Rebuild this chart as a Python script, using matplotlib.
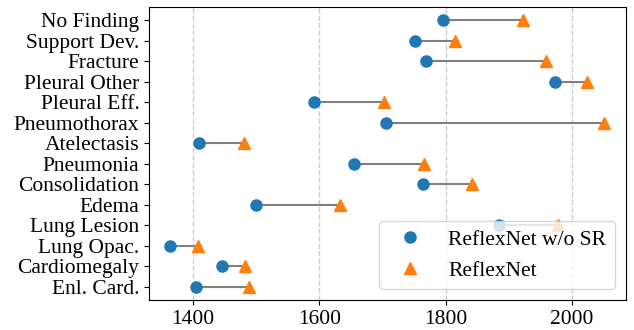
import numpy as np
import matplotlib
matplotlib.use('Agg')
import matplotlib.pyplot as plt

plt.rcParams['font.family'] = ['Liberation Serif', 'DejaVu Serif']

labels = ['No Finding', 'Support Dev.', 'Fracture', 'Pleural Other', 'Pleural Eff.',
          'Pneumothorax', 'Atelectasis', 'Pneumonia', 'Consolidation', 'Edema',
          'Lung Lesion', 'Lung Opac.', 'Cardiomegaly', 'Enl. Card.']
wo_sr = [1796, 1751, 1769, 1973, 1592, 1706, 1409, 1655, 1764, 1500, 1885, 1364, 1446, 1404]
reflexnet = [1922, 1814, 1958, 2023, 1702, 2051, 1481, 1766, 1841, 1633, 1978, 1408, 1482, 1488]

y = np.arange(len(labels))

fig = plt.figure(figsize=(6.34, 3.30), dpi=100)
ax = fig.add_axes([0.235, 0.091, 0.752, 0.888])

ax.hlines(y, wo_sr, reflexnet, color='gray', lw=1.5, zorder=1)
ax.plot(wo_sr, y, 'o', color='#1f77b4', ms=8, label='ReflexNet w/o SR', zorder=3)
ax.plot(reflexnet, y, '^', color='#ff7f0e', ms=9, label='ReflexNet', zorder=3)

ax.set_yticks(y)
ax.set_yticklabels(labels)
ax.invert_yaxis()
ax.set_xlim(1330, 2085)
ax.set_xticks([1400, 1600, 1800, 2000])
ax.tick_params(labelsize=15.5)
ax.grid(axis='x', ls='--', color='#cccccc', lw=1)
ax.set_axisbelow(True)
ax.legend(loc='lower right', fontsize=15.5, framealpha=0.8)

fig.savefig('out.png')
